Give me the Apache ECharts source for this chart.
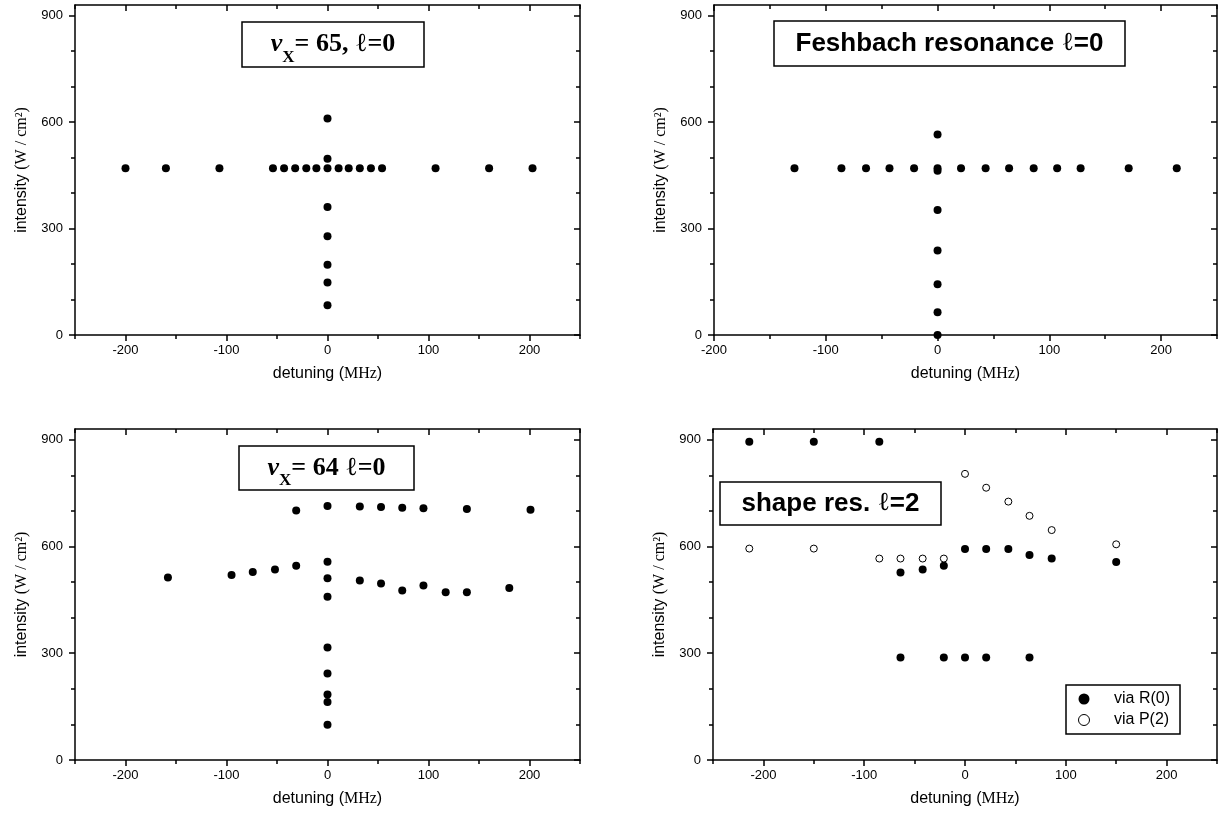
<!DOCTYPE html>
<html>
<head>
<meta charset="utf-8">
<title>detuning vs intensity</title>
<script src="https://cdn.jsdelivr.net/npm/echarts@6/dist/echarts.min.js"></script>
<style>
html, body { margin: 0; padding: 0; background: #fff; }
#main { width: 1228px; height: 818px; }
</style>
</head>
<body>
<div id="main"></div>
<script>
// tick marks / labels
var xLabels = [-200, -100, 0, 100, 200];
var xMinor = [-250, -150, -50, 50, 150, 250];
var yLabels = [0, 300, 600, 900];
var yMinor = [100, 200, 400, 500, 700, 800];

// [detuning (MHz), intensity (W/cm2)]
var v65Points = [
    [-200, 470], [-160, 470], [-107, 470], [-54, 470], [-43, 470], [-32, 470],
    [-21, 470], [-11, 470], [0, 470], [11, 470], [21, 470], [32, 470],
    [43, 470], [54, 470], [107, 470], [160, 470], [203, 470],
    [0, 610], [0, 497], [0, 361], [0, 278], [0, 198], [0, 148], [0, 84]
];

var feshbachPoints = [
    [-128, 470], [-86, 470], [-64, 470], [-43, 470], [-21, 470], [0, 470],
    [21, 470], [43, 470], [64, 470], [86, 470], [107, 470], [128, 470],
    [171, 470], [214, 470],
    [0, 565], [0, 463], [0, 352], [0, 238], [0, 143], [0, 64], [0, 0]
];

var v64Points = [
    [-31, 701], [0, 714], [32, 712], [53, 711], [74, 709], [95, 707], [138, 705], [201, 703],
    [-158, 513], [-95, 520], [-74, 528], [-52, 535], [-31, 546],
    [0, 557], [0, 511], [0, 459],
    [32, 504], [53, 496], [74, 476], [95, 490], [117, 471], [138, 471], [180, 483],
    [0, 316], [0, 243], [0, 184], [0, 163], [0, 99]
];

var viaR0 = [
    [-214, 894], [-150, 894], [-85, 894],
    [-64, 527], [-42, 535], [-21, 546], [0, 593], [21, 593], [43, 593],
    [64, 576], [86, 566], [150, 556],
    [-64, 288], [-21, 288], [0, 288], [21, 288], [64, 288]
];

var viaP2 = [
    [-214, 594], [-150, 594], [-85, 566], [-64, 566], [-42, 566], [-21, 566],
    [0, 804], [21, 765], [43, 726], [64, 686], [86, 646], [150, 606]
];

var SANS = "'Liberation Sans', Arial, sans-serif";
var SERIF = "'Liberation Serif', 'Times New Roman', serif";
var lineStyle = { color: '#000', width: 1.5 };

var grids = [
    { left: 75, top: 5, width: 505, height: 330, xMin: -250 },
    { left: 714, top: 5, width: 503, height: 330, xMin: -200 },
    { left: 75, top: 429, width: 505, height: 331, xMin: -250 },
    { left: 713, top: 429, width: 504, height: 331, xMin: -250 }
];

function inRange(list, min, max) {
    return list.filter(function (v) { return v >= min && v <= max; });
}

function makeXAxes(g, min) {
    var base = { gridIndex: g, type: 'value', min: min, max: 250, splitLine: { show: false } };
    var major = inRange(xLabels, min, 250);
    var minor = inRange(xMinor, min, 250);
    return [
        Object.assign({}, base, {
            position: 'bottom',
            axisLine: { onZero: false, lineStyle: lineStyle },
            axisTick: { customValues: major, length: 6, lineStyle: lineStyle },
            axisLabel: { customValues: major, margin: 9, fontSize: 13, color: '#000', fontFamily: SANS },
            name: 'detuning ({s|MHz})',
            nameLocation: 'middle',
            nameGap: 31,
            nameTextStyle: {
                fontSize: 16, color: '#000', fontFamily: SANS,
                rich: { s: { fontSize: 16, color: '#000', fontFamily: SERIF } }
            }
        }),
        Object.assign({}, base, {
            position: 'bottom',
            axisLine: { show: false, onZero: false },
            axisTick: { customValues: minor, length: 4, lineStyle: lineStyle },
            axisLabel: { show: false }
        }),
        Object.assign({}, base, {
            position: 'top',
            axisLine: { onZero: false, lineStyle: lineStyle },
            axisTick: { customValues: major, length: 6, inside: true, lineStyle: lineStyle },
            axisLabel: { show: false }
        }),
        Object.assign({}, base, {
            position: 'top',
            axisLine: { show: false, onZero: false },
            axisTick: { customValues: minor, length: 4, inside: true, lineStyle: lineStyle },
            axisLabel: { show: false }
        })
    ];
}

function makeYAxes(g) {
    var base = { gridIndex: g, type: 'value', min: 0, max: 930, splitLine: { show: false } };
    return [
        Object.assign({}, base, {
            position: 'left',
            axisLine: { onZero: false, lineStyle: lineStyle },
            axisTick: { customValues: yLabels, length: 6, lineStyle: lineStyle },
            axisLabel: { customValues: yLabels, margin: 12, fontSize: 13, color: '#000', fontFamily: SANS },
            name: 'intensity {s|(W / cm²)}',
            nameLocation: 'middle',
            nameRotate: 90,
            nameGap: 45,
            nameTextStyle: {
                fontSize: 16, color: '#000', fontFamily: SANS,
                rich: { s: { fontSize: 16, color: '#000', fontFamily: SERIF } }
            }
        }),
        Object.assign({}, base, {
            position: 'left',
            axisLine: { show: false, onZero: false },
            axisTick: { customValues: yMinor, length: 4, lineStyle: lineStyle },
            axisLabel: { show: false }
        }),
        Object.assign({}, base, {
            position: 'right',
            axisLine: { onZero: false, lineStyle: lineStyle },
            axisTick: { customValues: yLabels, length: 6, inside: true, lineStyle: lineStyle },
            axisLabel: { show: false }
        }),
        Object.assign({}, base, {
            position: 'right',
            axisLine: { show: false, onZero: false },
            axisTick: { customValues: yMinor, length: 4, inside: true, lineStyle: lineStyle },
            axisLabel: { show: false }
        })
    ];
}

var xAxis = [], yAxis = [];
grids.forEach(function (gr, i) {
    xAxis = xAxis.concat(makeXAxes(i, gr.xMin));
    yAxis = yAxis.concat(makeYAxes(i));
});

function dots(name, g, data, open) {
    return {
        name: name,
        type: 'scatter',
        xAxisIndex: g * 4,
        yAxisIndex: g * 4,
        data: data,
        symbol: 'circle',
        symbolSize: open ? 7 : 8,
        itemStyle: open
            ? { color: '#fff', borderColor: '#000', borderWidth: 1, opacity: 1 }
            : { color: '#000', opacity: 1 },
        emphasis: { disabled: true },
        z: 5
    };
}

// boxed panel titles
function titleBox(x, y, w, h, text, rich) {
    return {
        type: 'group',
        children: [
            {
                type: 'rect',
                shape: { x: x, y: y, width: w, height: h },
                style: { fill: '#fff', stroke: '#000', lineWidth: 1.5 },
                z: 10
            },
            {
                type: 'text',
                x: x + w / 2,
                y: y + h / 2,
                style: { text: text, rich: rich, align: 'center', verticalAlign: 'middle', fill: '#000' },
                z: 11
            }
        ]
    };
}

var serifRich = {
    v: { fontSize: 26, fontStyle: 'italic', fontWeight: 'bold', fontFamily: SERIF, fill: '#000' },
    x: { fontSize: 17, fontWeight: 'bold', fontFamily: SERIF, fill: '#000', padding: [26, 0, 0, 0] },
    m: { fontSize: 26, fontWeight: 'bold', fontFamily: SERIF, fill: '#000' },
    l: { fontSize: 26, fontFamily: SERIF, fill: '#000' }
};
var sansRich = {
    m: { fontSize: 26, fontWeight: 'bold', fontFamily: SANS, fill: '#000' },
    l: { fontSize: 26, fontFamily: SERIF, fill: '#000' }
};

var chart = echarts.init(document.getElementById('main'), null, { renderer: 'canvas' });

chart.setOption({
    animation: false,
    backgroundColor: '#fff',
    grid: grids.map(function (gr) {
        return { left: gr.left, top: gr.top, width: gr.width, height: gr.height, outerBoundsMode: 'none' };
    }),
    xAxis: xAxis,
    yAxis: yAxis,
    legend: {
        data: [
            { name: 'via R(0)', icon: 'circle', itemStyle: { color: '#000' } },
            { name: 'via P(2)', icon: 'circle', itemStyle: { color: '#fff', borderColor: '#000', borderWidth: 1 } }
        ],
        orient: 'vertical',
        left: 1066,
        top: 685,
        itemWidth: 30,
        itemHeight: 11,
        itemGap: 5,
        padding: [6, 10, 6, 12],
        borderColor: '#000',
        borderWidth: 1.5,
        backgroundColor: '#fff',
        selectedMode: false,
        textStyle: { fontSize: 16, color: '#000', fontFamily: SANS, padding: [0, 0, 0, 10] }
    },
    graphic: [
        titleBox(242, 22, 182, 45, '{v|v}{x|X}{m|= 65, }{l|ℓ}{m|=0}', serifRich),
        titleBox(774, 21, 351, 45, '{m|Feshbach resonance }{l|ℓ}{m|=0}', sansRich),
        titleBox(239, 446, 175, 44, '{v|v}{x|X}{m|= 64 }{l|ℓ}{m|=0}', serifRich),
        titleBox(720, 482, 221, 43, '{m|shape res. }{l|ℓ}{m|=2}', sansRich)
    ],
    series: [
        dots('v65', 0, v65Points, false),
        dots('feshbach', 1, feshbachPoints, false),
        dots('v64', 2, v64Points, false),
        dots('via R(0)', 3, viaR0, false),
        dots('via P(2)', 3, viaP2, true)
    ]
});
</script>
</body>
</html>
